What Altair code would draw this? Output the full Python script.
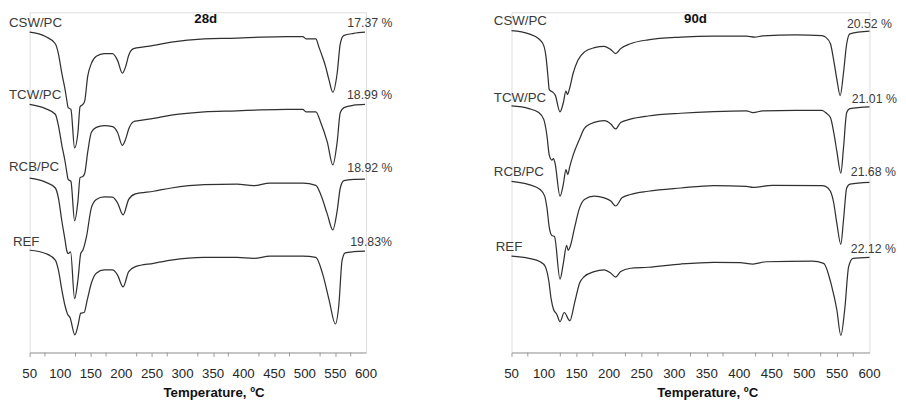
import altair as alt
import pandas as pd

SAMPLES = ["CSW/PC", "TCW/PC", "RCB/PC", "REF"]

# ---------------- 28 days (DTG curves, stacked, arbitrary units) ----------------
T28_CSW = [50, 76, 92, 97, 102.6, 108, 110.6, 113, 117.5, 123.5, 129, 132.5, 137, 140, 145, 151, 159, 172, 185.6, 193.6, 201.7, 207, 212, 220, 236.5, 252.6, 281.6, 335.7, 389, 427, 469.7, 496.6, 502, 518, 523, 528.8, 534, 539.5, 545.8, 552.9, 558, 563.5, 580, 598.4]
V28_CSW = [325.7, 321.3, 314, 304, 284, 267.3, 257.3, 249, 247.3, 208, 224, 250, 252.3, 255.7, 281, 294, 301.3, 304, 304, 297.3, 284, 290.7, 302.3, 309, 310.7, 312.3, 315.7, 319, 319.7, 320.7, 321.3, 321.3, 319, 319, 310.7, 300.7, 290.7, 277.3, 264.7, 284, 314, 322.3, 324.5, 325.7]

T28_TCW = [50, 76, 92, 97, 102.6, 108, 110.6, 113, 117.5, 123.5, 129, 132.5, 137, 140, 145, 151, 159, 172, 185.6, 193.6, 201.7, 207, 212, 220, 228.5, 252.6, 281.6, 335.7, 389, 427, 469.7, 496.6, 502, 518, 526, 536.8, 545.8, 552.9, 558, 564, 580, 598.4]
V28_TCW = [252.3, 248, 242.3, 231, 211, 194, 184, 176, 174, 134, 154, 178, 179, 182, 204, 224, 229, 230.7, 229.7, 224, 210.7, 217, 227.3, 234.7, 235.7, 238, 241.3, 244.7, 245.7, 246.7, 247.3, 247.3, 244.7, 244.7, 234, 214, 190.7, 214, 244, 249, 251.5, 252.3]

T28_RCB = [50, 76, 92, 97, 102.6, 108, 110.6, 113, 117, 123.5, 129, 133.6, 137, 142.8, 151, 159, 172, 185.6, 193.6, 202.8, 212, 223, 252.6, 281.6, 335.7, 389, 416, 443, 496.6, 518, 526, 536.8, 545.8, 552.9, 558, 564, 580, 598.4]
V28_RCB = [177.3, 173.3, 167.3, 157.3, 134, 114, 104, 100.7, 102.3, 54.7, 74, 100.7, 104, 117.3, 147.3, 155.7, 158.3, 158, 152.3, 140, 155.7, 161.3, 164, 167.3, 170.7, 171.3, 169.7, 172.3, 172.3, 170, 160.7, 140.7, 124.7, 144, 167.3, 174.7, 176, 176.3]

T28_REF = [50, 76, 92, 97, 102.6, 108, 112, 116, 124, 129, 133.6, 139, 144.4, 151, 159, 172, 185.6, 193.6, 202.8, 212, 223, 252.6, 281.6, 335.7, 389, 416, 443, 496.6, 518, 528.8, 539.5, 550, 555.5, 561, 566, 580, 598.4]
V28_REF = [104, 100.7, 94, 84, 64, 47.3, 39, 35.7, 18, 27.3, 40, 40.7, 54, 70.7, 80.7, 84, 84, 79, 66.7, 82.3, 87.3, 90.7, 94, 96.7, 96.7, 95.7, 98, 98, 96.7, 80.7, 54, 29, 47.3, 94, 101.3, 102.5, 103]

PCT28 = ["17.37 %", "18.99 %", "18.92 %", "19.83%"]

# ---------------- 90 days ----------------
T90_CSW = [50, 76.7, 91.8, 99.4, 103, 106, 108, 111, 114.5, 117, 124.5, 129.6, 133.6, 136, 138.7, 144.7, 152, 162, 177.4, 192.5, 202.6, 210, 217.7, 232.8, 260, 310.4, 360.8, 411, 423.7, 436, 486.7, 527, 532.5, 540, 545, 550, 555, 560, 565, 570, 600]
V90_CSW = [327.3, 324, 319, 312.3, 300.7, 280.7, 267.3, 265.7, 264, 262, 244.7, 254, 265.7, 262.3, 267.3, 284, 297.3, 305.7, 310, 311.3, 308, 304, 309, 314, 318, 320.7, 321.7, 321.7, 320.7, 322, 323, 322.3, 320.7, 314, 297.3, 277.3, 261.3, 284, 314, 324, 326.7]

T90_TCW = [50, 76.7, 91.8, 99.4, 104.4, 108, 112, 114.5, 117, 124.5, 129.6, 133.6, 136.5, 139.5, 144.7, 154.7, 162, 177, 192.5, 202.6, 210, 217.7, 232.8, 260, 310, 360.8, 411, 421, 436, 486.7, 527, 532.5, 540, 545, 550, 556, 560, 565, 570, 600]
V90_TCW = [250.7, 248, 244, 237.3, 220.7, 200.7, 195.7, 197.3, 192, 159, 171, 186, 181, 189, 200.7, 217.3, 228, 234, 235.7, 232.3, 227.3, 234, 237.3, 240.5, 243.3, 245, 245.7, 244, 245.7, 246.3, 246.3, 244, 239, 224, 204, 182.3, 207.3, 244, 248, 249.7]

T90_RCB = [50, 76.7, 94, 101, 104.4, 108, 112, 116, 124.5, 129.6, 134.6, 137, 140.7, 147, 154.7, 162, 177, 192.5, 202.6, 210, 219.7, 232.8, 260, 310, 360.8, 411, 421, 451, 527, 532.5, 540, 545, 550, 556, 560, 565, 570, 600]
V90_RCB = [174, 170.7, 165.7, 159, 147.3, 127.3, 119, 118, 74.7, 90.7, 109, 104, 109, 127.3, 147.3, 155.7, 159, 157.3, 154, 149, 157.3, 160.7, 164, 167.3, 169.7, 169, 168, 170, 169.7, 169, 164, 152.3, 130.7, 110, 134, 167.3, 171.3, 173]

T90_REF = [50, 76.7, 94, 102, 107, 111, 114.5, 119.5, 124.5, 131, 139.6, 147, 154.7, 162, 177, 192.5, 202.6, 210, 217.7, 232.8, 260, 310, 360.8, 401, 421, 441, 512, 529.5, 542, 549.7, 556, 562, 568, 574.8, 600]
V90_REF = [98, 95.7, 92.3, 87.3, 74, 54, 44, 39, 31.3, 40.7, 32.3, 50.7, 70.7, 77.3, 82.3, 84, 80.7, 76.7, 82.3, 85.7, 86.7, 90, 91.7, 91.3, 90, 92.3, 93, 90.7, 67.3, 44, 17.3, 44, 87.3, 95.7, 96.7]

PCT90 = ["20.52 %", "21.01 %", "21.68 %", "22.12 %"]

# ---------------- axis ticks ----------------
MAJOR_TICKS = [50, 100, 150, 200, 250, 300, 350, 400, 450, 500, 550, 600]
MINOR_TICKS = [75, 125, 175, 225, 275, 325, 375, 425, 475, 525, 575]

# ---------------- annotation anchors (data coordinates) ----------------
NAME28_T = [16.2, 16.2, 16.2, 22.7]
NAME28_V = [335, 261.7, 188.3, 112.3]
PCT28_T = [569.5, 569, 569.5, 574.3]
PCT28_V = [335, 262.3, 187.3, 112.3]

NAME90_T = [22.8, 22.8, 22.8, 25.8]
NAME90_V = [337, 259, 183.3, 107.3]
PCT90_T = [565.3, 572.8, 571.3, 571.3]
PCT90_V = [334, 257.3, 183.3, 105]

FONT = "Liberation Sans"
TXT = "#3a3a3a"
AXC = "#9a9a9a"


def curves_df(ts, vs):
    rows = []
    for name, t, v in zip(SAMPLES, ts, vs):
        for a, b in zip(t, v):
            rows.append({"sample": name, "T": a, "v": b})
    return pd.DataFrame(rows)


def panel(ts, vs, names_t, names_v, pct_t, pct_v, pcts, title, title_t, title_v, width, title_x):
    xscale = alt.Scale(domain=[50, 600], nice=False, zero=False)
    yscale = alt.Scale(domain=[0, 346], nice=False, zero=False)
    axis = alt.Axis(
        values=MAJOR_TICKS,
        labels=False,
        title="Temperature, ºC",
        grid=False,
        domainColor=AXC,
        tickColor=AXC,
        tickSize=4,
        titleFont=FONT,
        titleFontSize=13.5,
        titleFontWeight="bold",
        titleColor="#111111",
        titlePadding=29,
        titleX=title_x,
    )
    lines = alt.Chart(curves_df(ts, vs)).mark_line(
        color="#303030", strokeWidth=1.25, interpolate="monotone"
    ).encode(
        x=alt.X("T:Q", scale=xscale, axis=axis),
        y=alt.Y("v:Q", scale=yscale, axis=None),
        detail="sample:N",
    )
    minor = alt.Chart(pd.DataFrame({"T": MINOR_TICKS})).mark_rule(
        color=AXC, strokeWidth=1
    ).encode(x=alt.X("T:Q", scale=xscale), y=alt.value(346), y2=alt.value(350))
    ticklab = alt.Chart(pd.DataFrame({"T": MAJOR_TICKS, "txt": [str(t) for t in MAJOR_TICKS]})).mark_text(
        align="center", baseline="middle", font=FONT, fontSize=13.5, color="#262626"
    ).encode(x=alt.X("T:Q", scale=xscale), y=alt.value(367.5), text="txt:N")
    names = alt.Chart(pd.DataFrame({"T": names_t, "v": names_v, "txt": SAMPLES})).mark_text(
        align="left", baseline="middle", font=FONT, fontSize=13.5, color=TXT
    ).encode(x=alt.X("T:Q", scale=xscale), y=alt.Y("v:Q", scale=yscale), text="txt:N")
    pct = alt.Chart(pd.DataFrame({"T": pct_t, "v": pct_v, "txt": pcts})).mark_text(
        align="left", baseline="middle", font=FONT, fontSize=12.5, color=TXT
    ).encode(x=alt.X("T:Q", scale=xscale), y=alt.Y("v:Q", scale=yscale), text="txt:N")
    ttl = alt.Chart(pd.DataFrame({"T": [title_t], "v": [title_v], "txt": [title]})).mark_text(
        align="center", baseline="middle", font=FONT, fontSize=13.5, fontWeight="bold", color="#111111"
    ).encode(x=alt.X("T:Q", scale=xscale), y=alt.Y("v:Q", scale=yscale), text="txt:N")
    return alt.layer(lines, minor, ticklab, names, pct, ttl).properties(width=width, height=346)


left = panel(
    [T28_CSW, T28_TCW, T28_RCB, T28_REF],
    [V28_CSW, V28_TCW, V28_RCB, V28_REF],
    NAME28_T, NAME28_V, PCT28_T, PCT28_V, PCT28,
    "28d", 337.9, 339.5, 342, 187,
)
right = panel(
    [T90_CSW, T90_TCW, T90_RCB, T90_REF],
    [V90_CSW, V90_TCW, V90_RCB, V90_REF],
    NAME90_T, NAME90_V, PCT90_T, PCT90_V, PCT90,
    "90d", 332.6, 339.5, 364, 199,
)

chart = alt.hconcat(left, right, spacing=148, bounds="flush").properties(
    padding={"left": 0, "top": 0, "right": 0, "bottom": 0}
).configure_view(stroke=None).configure(background="white")

chart.save("out.html", embed_options={"renderer": "svg", "actions": False})
